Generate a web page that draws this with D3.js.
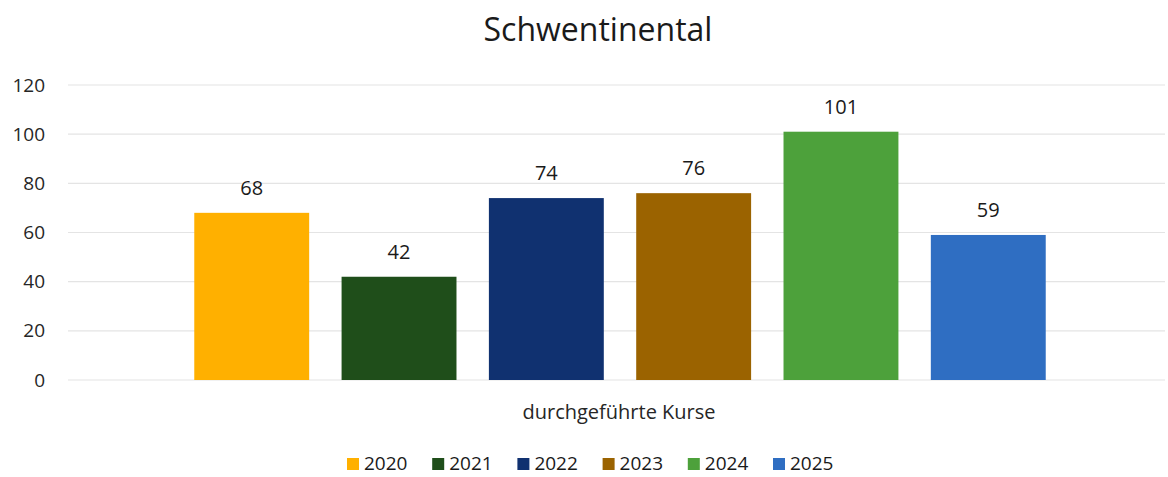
<!DOCTYPE html>
<html><head><meta charset="utf-8">
<script src="https://cdn.jsdelivr.net/npm/d3@7"></script>
<style>body{margin:0;background:#fff;} svg{display:block;font-family:"Open Sans",Lato,sans-serif;}</style>
</head><body>
<svg id="c" width="1168" height="477"></svg>
<script>
const categories = ["durchgeführte Kurse"];
const years = ["2020","2021","2022","2023","2024","2025"];
const values = [68, 42, 74, 76, 101, 59];
const colors = ["#FFB000","#1F4E1A","#103170","#9B6300","#4DA13B","#2F6EC2"];
const yTicks = [0,20,40,60,80,100,120];

(function(){
const svg = d3.select("#c");
const mLeft = 72, mRight = 1168, mTop = 85, mBottom = 380;
const y = d3.scaleLinear().domain([0,120]).range([mBottom, mTop]);
const x0 = d3.scaleBand().domain(categories).range([mLeft, mRight]).paddingOuter(0.12).paddingInner(0);
const x1 = d3.scaleBand().domain(years).range([0, x0.bandwidth()]).paddingInner(0.22).paddingOuter(0.11);

// gridlines
svg.append("g").selectAll("line").data(yTicks).join("line")
  .attr("x1", 68).attr("x2", 1165).attr("y1", d=>y(d)).attr("y2", d=>y(d))
  .attr("stroke", "#e4e4e4").attr("stroke-width", 1.2);

// y axis labels
const yAxis = d3.axisLeft(y).tickValues(yTicks).tickSize(0).tickPadding(0);
const ga = svg.append("g").attr("transform", `translate(45,0)`).call(yAxis);
ga.select(".domain").remove();
ga.selectAll("text").attr("font-size", 19).attr("fill", "#262626").attr("font-family", "'Open Sans',Lato,sans-serif");

// title
svg.append("text").attr("x", 598).attr("y", 41).attr("text-anchor", "middle")
  .attr("font-size", 32).attr("fill", "#1a1a1a").text("Schwentinental");

// bars
const g = svg.append("g").attr("transform", `translate(${x0(categories[0])},0)`);
const data = years.map((yr,i)=>({yr, v: values[i], c: colors[i]}));
g.selectAll("rect").data(data).join("rect")
  .attr("x", d=>x1(d.yr)).attr("width", x1.bandwidth())
  .attr("y", d=>y(d.v)).attr("height", d=>y(0)-y(d.v))
  .attr("fill", d=>d.c);
g.selectAll("text.val").data(data).join("text").attr("class","val")
  .attr("x", d=>x1(d.yr)+x1.bandwidth()/2).attr("y", d=>y(d.v)-18)
  .attr("text-anchor","middle").attr("font-size", 20).attr("fill","#1a1a1a")
  .text(d=>d.v);

// category label
svg.append("text").attr("x", 619).attr("y", 419)
  .attr("text-anchor","middle").attr("font-size", 20).attr("fill","#262626").text(categories[0]);

// legend
const legX = d3.scalePoint().domain(years).range([347, 773]);
const lg = svg.append("g");
lg.selectAll("rect").data(data).join("rect")
  .attr("x", d=>legX(d.yr)).attr("y",458).attr("width",12).attr("height",12).attr("fill", d=>d.c);
lg.selectAll("text").data(data).join("text")
  .attr("x", d=>legX(d.yr)+17).attr("y",470).attr("font-size",19).attr("fill","#1a1a1a").text(d=>d.yr);
})();
</script>
</body></html>
